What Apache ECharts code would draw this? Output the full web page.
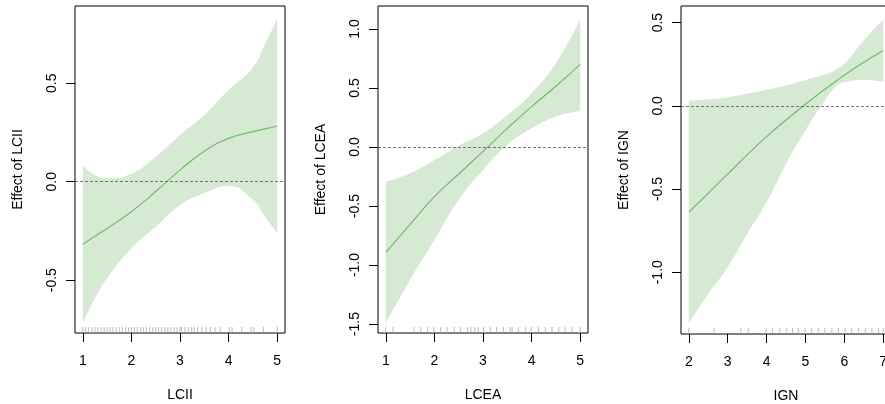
<!DOCTYPE html>
<html>
<head>
<meta charset="utf-8">
<script src="https://cdn.jsdelivr.net/npm/echarts@6/dist/echarts.min.js"></script>
<style>
html, body { margin: 0; padding: 0; background: #fff; }
#main { width: 885px; height: 404px; }
</style>
</head>
<body>
<div id="main"></div>
<script>
// LCII
var x1 = [1, 1.25, 1.5, 2, 2.5, 3, 3.5, 4, 4.5, 4.75, 5];
var fit1 = [-0.317, -0.277, -0.237, -0.152, -0.05, 0.059, 0.155, 0.22, 0.254, 0.268, 0.283];
var upper1 = [0.085, 0.034, 0.017, 0.042, 0.127, 0.237, 0.339, 0.466, 0.58, 0.70, 0.827];
var lower1 = [-0.717, -0.593, -0.49, -0.339, -0.229, -0.119, -0.059, -0.022, -0.093, -0.178, -0.263];
var rug1 = [1.00, 1.06, 1.12, 1.19, 1.25, 1.31, 1.38, 1.44, 1.50, 1.56, 1.62, 1.69, 1.75, 1.81, 1.88, 1.94,
  2.00, 2.06, 2.12, 2.19, 2.25, 2.31, 2.38, 2.44, 2.50, 2.56, 2.62, 2.69, 2.75, 2.81, 2.88, 2.94,
  3.00, 3.03, 3.10, 3.17, 3.24, 3.29, 3.36, 3.45, 3.54, 3.63, 3.72, 3.83, 4.01, 4.07, 4.27, 4.46, 4.52, 4.72, 5.00];
var xTicks1 = [1, 2, 3, 4, 5];
var yTicks1 = [-0.5, 0, 0.5];

// LCEA
var x2 = [1, 1.5, 2, 2.5, 3, 3.5, 4, 4.5, 5];
var fit2 = [-0.893, -0.655, -0.421, -0.229, -0.037, 0.158, 0.342, 0.515, 0.70];
var upper2 = [-0.294, -0.223, -0.11, 0.011, 0.116, 0.271, 0.455, 0.709, 1.085];
var lower2 = [-1.489, -1.127, -0.788, -0.449, -0.195, 0.017, 0.158, 0.257, 0.305];
var rug2 = [1.00, 1.15, 1.58, 1.72, 1.86, 1.99, 2.13, 2.26, 2.41, 2.54, 2.68, 2.75, 2.83, 2.90,
  3.01, 3.15, 3.28, 3.42, 3.56, 3.60, 3.73, 3.87, 3.99, 4.14, 4.28, 4.42, 4.56, 4.69, 4.83, 5.00];
var xTicks2 = [1, 2, 3, 4, 5];
var yTicks2 = [-1.5, -1, -0.5, 0, 0.5, 1];

// IGN
var x3 = [2, 2.5, 3, 3.5, 4, 4.5, 5, 5.5, 5.8, 6, 6.5, 7];
var fit3 = [-0.639, -0.525, -0.41, -0.295, -0.185, -0.085, 0.01, 0.10, 0.151, 0.185, 0.262, 0.333];
var upper3 = [0.032, 0.038, 0.052, 0.073, 0.096, 0.122, 0.156, 0.188, 0.222, 0.252, 0.393, 0.519];
var lower3 = [-1.307, -1.13, -0.97, -0.77, -0.58, -0.349, -0.148, 0.032, 0.122, 0.142, 0.156, 0.146];
var rug3 = [2.00, 2.65, 3.34, 3.53, 3.99, 4.15, 4.34, 4.52, 4.67, 4.82, 4.99, 5.16, 5.33, 5.50,
  5.68, 5.85, 6.02, 6.19, 6.36, 6.54, 6.71, 6.88, 7.00];
var xTicks3 = [2, 3, 4, 5, 6, 7];
var yTicks3 = [-1, -0.5, 0, 0.5];

var panels = [
  { name: "LCII", x: x1, fit: fit1, up: upper1, lo: lower1, rug: rug1, xt: xTicks1, yt: yTicks1,
    grid: { left: 75, top: 6, width: 210, height: 327 }, xr: [0.84, 5.16], yr: [-0.768, 0.892] },
  { name: "LCEA", x: x2, fit: fit2, up: upper2, lo: lower2, rug: rug2, xt: xTicks2, yt: yTicks2,
    grid: { left: 378, top: 6, width: 210, height: 327 }, xr: [0.84, 5.16], yr: [-1.576, 1.195] },
  { name: "IGN", x: x3, fit: fit3, up: upper3, lo: lower3, rug: rug3, xt: xTicks3, yt: yTicks3,
    grid: { left: 681, top: 6, width: 210, height: 328 }, xr: [1.8, 7.2], yr: [-1.371, 0.6] }
];

var font = "Liberation Sans, Arial, sans-serif";
var grids = [], xAxes = [], yAxes = [], series = [];

panels.forEach(function (p, i) {
  grids.push(Object.assign({
    show: true, borderColor: "#000", borderWidth: 1, backgroundColor: "transparent",
    containLabel: false, outerBoundsMode: "none"
  }, p.grid));
  xAxes.push({
    gridIndex: i, type: "value", min: p.xr[0], max: p.xr[1],
    name: p.name, nameLocation: "middle", nameGap: 55,
    nameTextStyle: { color: "#000", fontSize: 14, fontFamily: font },
    axisLine: { show: false, onZero: false },
    axisTick: { show: true, inside: false, length: 9, customValues: p.xt, lineStyle: { color: "#000" } },
    axisLabel: { customValues: p.xt, margin: 21, color: "#000", fontSize: 14, fontFamily: font },
    splitLine: { show: false }
  });
  yAxes.push({
    gridIndex: i, type: "value", min: p.yr[0], max: p.yr[1],
    name: "Effect of " + p.name, nameLocation: "middle", nameGap: 50, nameRotate: 90,
    nameTextStyle: { color: "#000", fontSize: 14, fontFamily: font },
    axisLine: { show: false, onZero: false },
    axisTick: { show: true, inside: false, length: 9, customValues: p.yt, lineStyle: { color: "#000" } },
    axisLabel: { customValues: p.yt, rotate: 90, margin: 16, color: "#000", fontSize: 14, fontFamily: font,
      formatter: function (v) { return v.toFixed(1); } },
    splitLine: { show: false }
  });

  // band rows are [y, x] so the stack runs on the y values
  var loData = p.x.map(function (v, k) { return [p.lo[k], v]; });
  var bandData = p.x.map(function (v, k) { return [p.up[k] - p.lo[k], v]; });
  var fitData = p.x.map(function (v, k) { return [v, p.fit[k]]; });

  series.push({
    type: "line", xAxisIndex: i, yAxisIndex: i, data: loData, encode: { x: 1, y: 0 },
    stack: "band" + i, stackStrategy: "all",
    smooth: true, symbol: "none", lineStyle: { opacity: 0 }, silent: true, animation: false
  });
  series.push({
    type: "line", xAxisIndex: i, yAxisIndex: i, data: bandData, encode: { x: 1, y: 0 },
    stack: "band" + i, stackStrategy: "all",
    smooth: true, symbol: "none", lineStyle: { opacity: 0 },
    areaStyle: { color: "#d6e9d3", opacity: 1 }, silent: true, animation: false
  });
  series.push({
    type: "line", xAxisIndex: i, yAxisIndex: i, data: fitData, smooth: true, symbol: "none",
    lineStyle: { color: "#6cbd67", width: 1.2 }, animation: false,
    markLine: {
      silent: true, symbol: "none", animation: false, label: { show: false },
      lineStyle: { color: "#555", type: [3, 2], width: 0.8 },
      data: [{ yAxis: 0 }]
    }
  });
  series.push({
    type: "scatter", xAxisIndex: i, yAxisIndex: i,
    data: p.rug.map(function (v) { return [v, p.yr[0]]; }),
    symbol: "rect", symbolSize: [1, 6], symbolOffset: [0, -3],
    itemStyle: { color: "#aaaaaa" }, silent: true, animation: false
  });
});

var myChart = echarts.init(document.getElementById("main"));
myChart.setOption({
  animation: false,
  textStyle: { fontFamily: font },
  grid: grids,
  xAxis: xAxes,
  yAxis: yAxes,
  series: series
});
</script>
</body>
</html>
